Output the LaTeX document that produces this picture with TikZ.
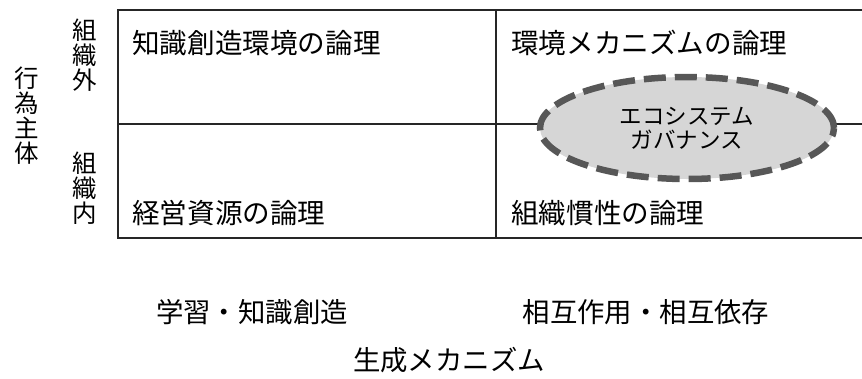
\documentclass[tikz,border=0pt]{standalone}
\usepackage{fontspec}
\setmainfont{Noto Sans CJK JP}
\newfontfamily\cjk{Noto Sans CJK JP}
\usetikzlibrary{shapes.geometric}
\tikzset{
  grid/.style={line width=1.4pt, draw=black!85},
  celltext/.style={anchor=west, inner sep=0pt, font=\cjk\fontsize{27.6}{30}\selectfont},
  axistext/.style={inner sep=0pt, font=\cjk\fontsize{27.4}{30}\selectfont},
  vtext/.style={inner sep=0pt, align=center, font=\cjk\fontsize{24.5}{25}\selectfont},
  eco/.style={ellipse, minimum width=294pt, minimum height=102pt, inner sep=0pt,
    fill=black!16, draw=black!66, line width=6.5pt, dash pattern=on 22pt off 9pt,
    align=center, font=\cjk\fontsize{22.5}{24}\selectfont}
}
\begin{document}
\begin{tikzpicture}[x=1pt,y=-1pt]
\useasboundingbox (0,0) rectangle (862,378);
% table
\coordinate (tl) at (118,10);
\coordinate (tr) at (862,10);
\coordinate (ml) at (118,124);
\coordinate (mr) at (862,124);
\coordinate (bl) at (118,238);
\coordinate (br) at (862,238);
\coordinate (vt) at (496,10);
\coordinate (vb) at (496,238);
\draw[grid] (tr) -- (tl) -- (bl) -- (br);
\draw[grid] (ml) -- (mr);
\draw[grid] (vt) -- (vb);
% ellipse
\node[eco] (eco) at (687,128) {エコシステム\\ガバナンス};
% cell texts
\node[celltext] (c1) at (132,43) {知識創造環境の論理};
\node[celltext] (c2) at (511,43) {環境メカニズムの論理};
\node[celltext] (c3) at (132,213) {経営資源の論理};
\node[celltext] (c4) at (511,213) {組織慣性の論理};
% left labels
\node[vtext] (out) at (85,55) {組\\織\\外};
\node[vtext] (in) at (85,188) {組\\織\\内};
\node[vtext] (actor) at (27,116) {行\\為\\主\\体};
% bottom labels
\node[axistext] (learn) at (252,312) {学習・知識創造};
\node[axistext] (inter) at (646,312) {相互作用・相互依存};
\node[axistext] (gen) at (449,360) {生成メカニズム};
\end{tikzpicture}
\end{document}
